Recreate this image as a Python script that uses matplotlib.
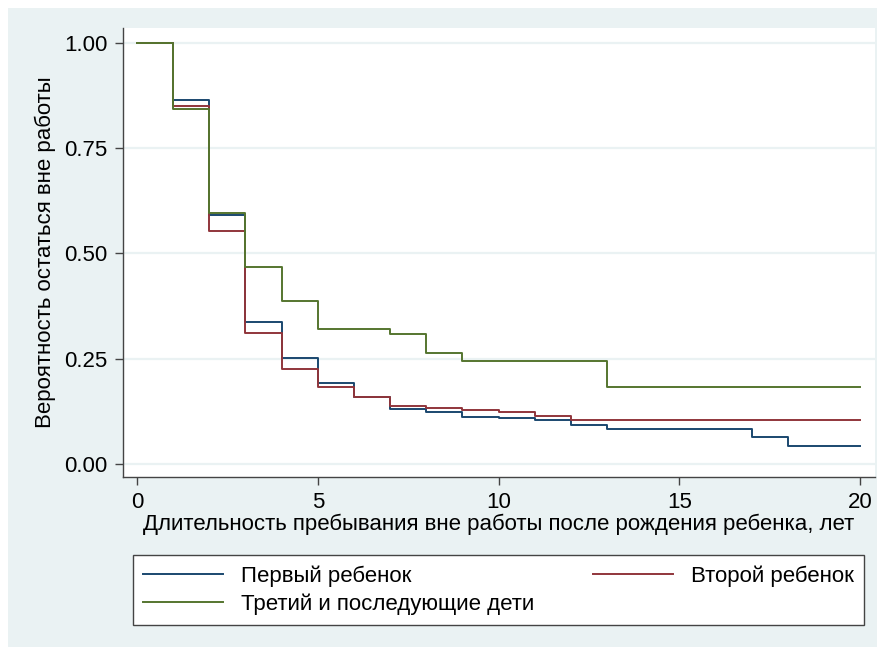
import matplotlib.pyplot as plt
from matplotlib.patches import Rectangle

plt.rcParams['font.family'] = ['Liberation Sans', 'DejaVu Sans']
plt.rcParams['font.size'] = 16

# Kaplan-Meier style survival estimates
first_t = [0, 1, 2, 3, 4, 5, 6, 7, 8, 9, 10, 11, 12, 13, 17, 18, 20]
first_s = [1.0, 0.865, 0.591, 0.337, 0.251, 0.193, 0.158, 0.130, 0.124,
           0.112, 0.109, 0.1045, 0.092, 0.082, 0.064, 0.043, 0.043]

second_t = [0, 1, 2, 3, 4, 5, 6, 7, 8, 9, 10, 11, 12, 20]
second_s = [1.0, 0.850, 0.554, 0.310, 0.225, 0.182, 0.158, 0.138, 0.134,
            0.128, 0.123, 0.115, 0.1045, 0.1045]

third_t = [0, 1, 2, 3, 4, 5, 7, 8, 9, 13, 20]
third_s = [1.0, 0.842, 0.597, 0.469, 0.386, 0.321, 0.309, 0.263, 0.244,
           0.183, 0.183]

labels = ['Первый ребенок', 'Второй ребенок', 'Третий и последующие дети']
colors = ['#1a476f', '#90353b', '#55752f']

W, H = 878, 647
fig = plt.figure(figsize=(W / 100, H / 100), dpi=100, facecolor='white')
# Stata-like light background panel
fig.patches.append(Rectangle((8 / W, 0), 1 - 8 / W, 1 - 8 / H,
                             transform=fig.transFigure, facecolor='#eaf2f3',
                             edgecolor='none', zorder=-10))

left, right, top, bottom = 123, 875, 28, 477
ax = fig.add_axes([left / W, 1 - bottom / H, (right - left) / W, (bottom - top) / H])
ax.set_facecolor('white')

lines = []
for t, s, lab, c in zip([first_t, second_t, third_t],
                        [first_s, second_s, third_s], labels, colors):
    ln, = ax.step(t, s, where='post', color=c, lw=1.4, label=lab)
    lines.append(ln)

ax.set_xlim(-0.387, 20.41)
ax.set_ylim(-0.031, 1.0356)
ax.set_xticks([0, 5, 10, 15, 20])
ax.set_yticks([0, 0.25, 0.5, 0.75, 1.0])
ax.set_yticklabels(['0.00', '0.25', '0.50', '0.75', '1.00'])
ax.yaxis.grid(True, color='#eaf2f3', lw=1.6)
ax.set_axisbelow(True)
for sp in ['top', 'right']:
    ax.spines[sp].set_visible(False)
for sp in ['left', 'bottom']:
    ax.spines[sp].set_color('#444444')
    ax.spines[sp].set_linewidth(1.0)
ax.tick_params(colors='#444444', length=6, width=1.0, labelcolor='black',
               labelsize=16, pad=5)

ax.set_ylabel('Вероятность остаться вне работы', fontsize=16, labelpad=6)
ax.set_xlabel('Длительность пребывания вне работы после рождения ребенка, лет',
              fontsize=16, labelpad=0)

# legend laid out row-wise in two columns
handles = [lines[0], lines[2], lines[1]]
leg_labels = [labels[0], labels[2], labels[1]]
leg = fig.legend(handles, leg_labels, ncol=2, mode='expand',
                 bbox_to_anchor=(133 / W, 1 - 625 / H, (864 - 133) / W, (625 - 543) / H),
                 loc='lower left', frameon=True, fancybox=False,
                 handlelength=3.6, handletextpad=0.8, labelspacing=0.3,
                 borderaxespad=0, borderpad=0.45, fontsize=16)
leg.get_frame().set_edgecolor('#444444')
leg.get_frame().set_linewidth(1.0)
leg.get_frame().set_facecolor('white')
leg.get_frame().set_alpha(1)

fig.savefig('out.png', dpi=100)
